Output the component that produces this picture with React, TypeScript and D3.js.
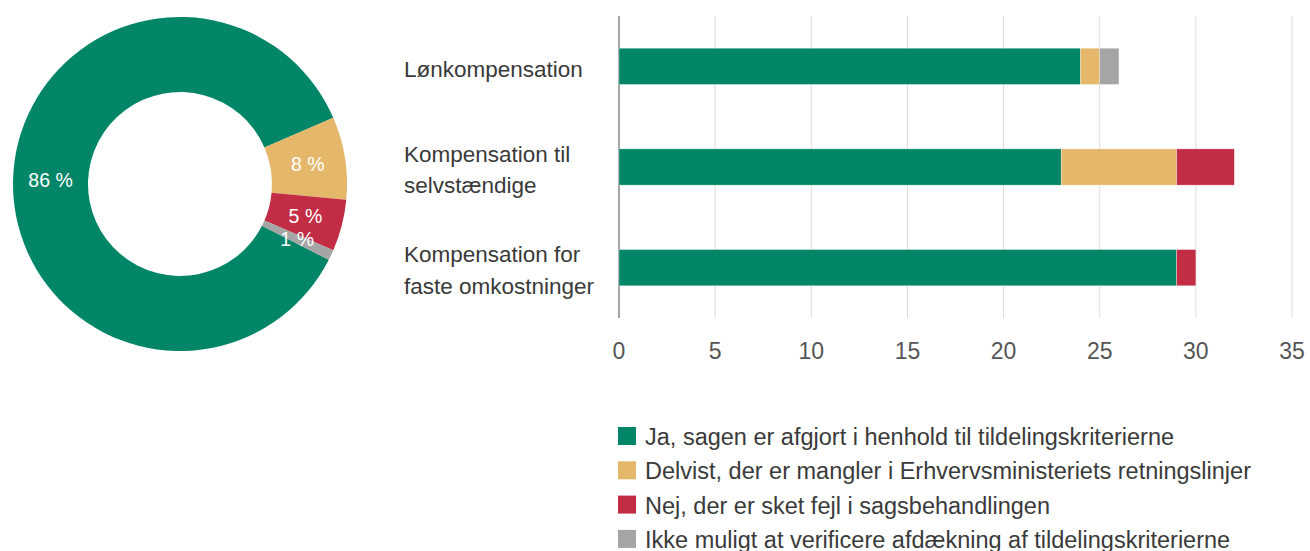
import React from "react";
import * as d3 from "d3";

const donutLabels = ["Ja", "Delvist", "Nej", "Ikke muligt"];
const donutValues = [86, 8, 5, 1];

const categories = [
  ["Lønkompensation"],
  ["Kompensation til", "selvstændige"],
  ["Kompensation for", "faste omkostninger"],
];
const seriesNames = [
  "Ja, sagen er afgjort i henhold til tildelingskriterierne",
  "Delvist, der er mangler i Erhvervsministeriets retningslinjer",
  "Nej, der er sket fejl i sagsbehandlingen",
  "Ikke muligt at verificere afdækning af tildelingskriterierne",
];
const seriesJa = [24, 23, 29];
const seriesDelvist = [1, 6, 0];
const seriesNej = [0, 3, 1];
const seriesIkke = [1, 0, 0];
const xTicks = [0, 5, 10, 15, 20, 25, 30, 35];

const colors = ["#028667", "#E5B76B", "#C22D45", "#A5A5A5"];
const FONT = "'Liberation Sans', Arial, sans-serif";

export default function App() {
  const W = 1310;
  const H = 551;

  // Donut
  const cx = 180, cy = 184, rOuter = 167, rInner = 92;
  const start = (117 * Math.PI) / 180;
  const pie = d3.pie<number>().sort(null).startAngle(start).endAngle(start + 2 * Math.PI);
  const arcs = pie(donutValues);
  const arcGen = d3.arc<d3.PieArcDatum<number>>().innerRadius(rInner).outerRadius(rOuter);

  // Bars
  const x = d3.scaleLinear().domain([0, 35]).range([619, 1292]);
  const y = d3.scaleBand<number>().domain([0, 1, 2]).range([16, 318]).paddingInner(0.64).paddingOuter(0.32);
  const series = [seriesJa, seriesDelvist, seriesNej, seriesIkke];
  const rows = categories.map((_, i) => {
    const obj: any = { i };
    series.forEach((s, k) => (obj["s" + k] = s[i]));
    return obj;
  });
  const stack = d3.stack<any>().keys(["s0", "s1", "s2", "s3"])(rows);

  return (
    <svg width={W} height={H} style={{ position: "absolute", left: 0, top: 0 }}>
      <g transform={`translate(${cx},${cy})`}>
        {arcs.map((a, i) => (
          <path key={i} d={arcGen(a) || ""} fill={colors[i]} />
        ))}
        {arcs.map((a, i) => {
          const [lx, ly] = arcGen.centroid(a);
          return (
            <text key={"l" + i} x={lx} y={ly} dy="0.35em" textAnchor="middle" fill="#fff"
              fontFamily={FONT} fontSize={19.5}>
              {donutValues[i]} %
            </text>
          );
        })}
      </g>

      {/* gridlines */}
      {xTicks.map((t) => (
        <line key={"g" + t} x1={x(t)} x2={x(t)} y1={16} y2={318}
          stroke={t === 0 ? "#888" : "#dcdcdc"} strokeWidth={t === 0 ? 1.5 : 1} />
      ))}

      {/* bars */}
      {stack.map((layer, k) =>
        layer.map((d, i) =>
          d[1] - d[0] > 0 ? (
            <rect key={`b${k}-${i}`} x={x(d[0])} y={y(i)!} width={x(d[1]) - x(d[0])}
              height={y.bandwidth()} fill={colors[k]} stroke="#ffffff" strokeOpacity={0.5} strokeWidth={0.6} />
          ) : null
        )
      )}

      {/* tick labels */}
      {xTicks.map((t) => (
        <text key={"t" + t} x={x(t)} y={359.3} textAnchor="middle" fill="#555"
          fontFamily={FONT} fontSize={23}>
          {t}
        </text>
      ))}

      {/* category labels */}
      {categories.map((lines, i) => {
        const c = y(i)! + y.bandwidth() / 2;
        const lh = 31.6;
        const first = c + 10.5 - ((lines.length - 1) * lh) / 2;
        return (
          <text key={"c" + i} x={404} fill="#3a3a3a" fontFamily={FONT} fontSize={22.5}>
            {lines.map((ln, j) => (
              <tspan key={j} x={404} y={first + j * lh}>{ln}</tspan>
            ))}
          </text>
        );
      })}

      {/* legend */}
      {seriesNames.map((n, k) => (
        <g key={"lg" + k} transform={`translate(618,${427 + k * 34.3})`}>
          <rect x={0} y={0} width={18} height={18} fill={colors[k]} />
          <text x={27} y={18} fill="#3a3a3a" fontFamily={FONT} fontSize={23.5}>{n}</text>
        </g>
      ))}
    </svg>
  );
}
